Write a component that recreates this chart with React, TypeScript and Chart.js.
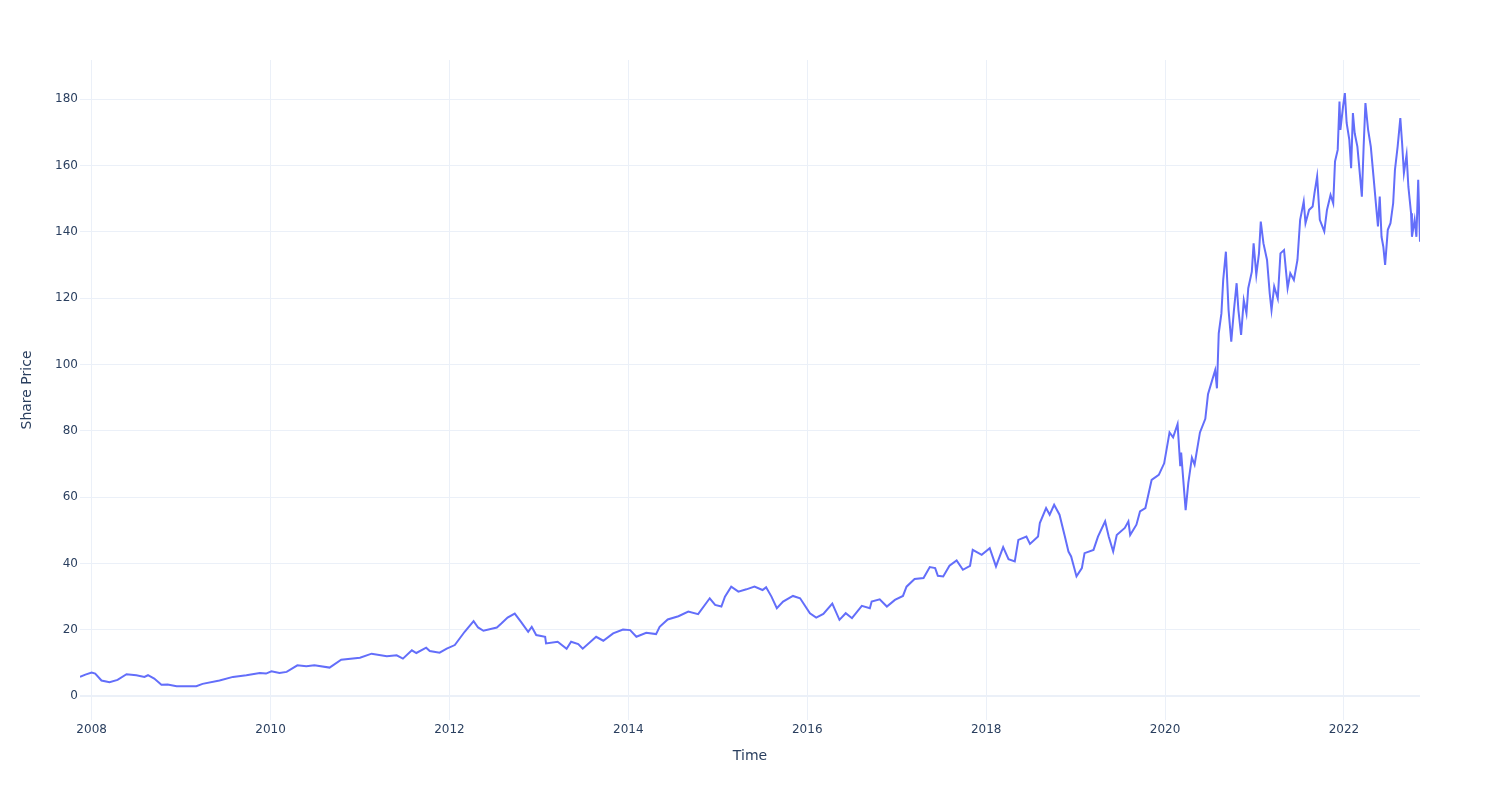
import React, { useEffect, useRef } from "react";
import { Chart, registerables } from "chart.js";

Chart.register(...registerables);

const dates: number[] = [
  2007.87, 2007.93, 2008.0, 2008.04, 2008.11, 2008.2, 2008.29, 2008.39, 2008.5, 2008.59,
  2008.63, 2008.7, 2008.78, 2008.85, 2008.95, 2009.06, 2009.17, 2009.24, 2009.43, 2009.58,
  2009.73, 2009.88, 2009.95, 2010.01, 2010.1, 2010.18, 2010.3, 2010.4, 2010.49, 2010.66,
  2010.79, 2011.0, 2011.13, 2011.3, 2011.41, 2011.48, 2011.58, 2011.63, 2011.74, 2011.78,
  2011.89, 2011.97, 2012.06, 2012.17, 2012.27, 2012.32, 2012.38, 2012.53, 2012.58, 2012.65,
  2012.73, 2012.8, 2012.88, 2012.92, 2012.97, 2013.07, 2013.08, 2013.21, 2013.31, 2013.36,
  2013.44, 2013.49, 2013.64, 2013.72, 2013.83, 2013.94, 2014.02, 2014.09, 2014.2, 2014.31,
  2014.35, 2014.44, 2014.56, 2014.67, 2014.78, 2014.91, 2014.97, 2015.04, 2015.08, 2015.15,
  2015.23, 2015.32, 2015.41, 2015.5, 2015.54, 2015.6, 2015.66, 2015.73, 2015.84, 2015.92,
  2016.03, 2016.1, 2016.18, 2016.28, 2016.36, 2016.43, 2016.5, 2016.61, 2016.7, 2016.72,
  2016.81, 2016.89, 2016.98, 2017.07, 2017.11, 2017.2, 2017.3, 2017.37, 2017.43, 2017.46,
  2017.52, 2017.59, 2017.67, 2017.74, 2017.82, 2017.85, 2017.95, 2018.04, 2018.11, 2018.19,
  2018.25, 2018.32, 2018.36, 2018.45, 2018.49, 2018.58, 2018.6, 2018.67, 2018.71, 2018.76,
  2018.82, 2018.88, 2018.92, 2018.95, 2019.01, 2019.07, 2019.1, 2019.2, 2019.25, 2019.33,
  2019.37, 2019.42, 2019.46, 2019.55, 2019.59, 2019.61, 2019.68, 2019.72, 2019.78, 2019.85,
  2019.93, 2019.99, 2020.05, 2020.09, 2020.14, 2020.17, 2020.18, 2020.23, 2020.26, 2020.3,
  2020.33, 2020.39, 2020.45, 2020.48, 2020.56, 2020.58, 2020.6, 2020.63, 2020.65, 2020.68,
  2020.71, 2020.74, 2020.77, 2020.8, 2020.82, 2020.85, 2020.88, 2020.91, 2020.93, 2020.97,
  2020.99, 2021.02, 2021.05, 2021.07, 2021.1, 2021.14, 2021.17, 2021.19, 2021.22, 2021.26,
  2021.29, 2021.33, 2021.37, 2021.4, 2021.44, 2021.48, 2021.51, 2021.55, 2021.57, 2021.61,
  2021.65, 2021.67, 2021.7, 2021.73, 2021.78, 2021.81, 2021.85, 2021.88, 2021.9, 2021.93,
  2021.95, 2021.96, 2021.99, 2022.01, 2022.03, 2022.06, 2022.08, 2022.1, 2022.12, 2022.15,
  2022.17, 2022.2, 2022.22, 2022.24, 2022.27, 2022.3, 2022.33, 2022.36, 2022.38, 2022.4,
  2022.42, 2022.44, 2022.46, 2022.49, 2022.52, 2022.55, 2022.57, 2022.6, 2022.63, 2022.65,
  2022.67, 2022.7, 2022.72, 2022.75, 2022.76, 2022.79, 2022.81, 2022.83, 2022.85,
];

const prices: number[] = [
  5.8, 6.5, 7.1, 6.8, 4.7, 4.2, 4.9, 6.6, 6.3, 5.8,
  6.3, 5.3, 3.4, 3.5, 3.0, 3.0, 3.0, 3.7, 4.7, 5.8,
  6.3, 7.0, 6.8, 7.5, 7.0, 7.3, 9.3, 9.0, 9.3, 8.6,
  11.0, 11.6, 12.8, 12.0, 12.3, 11.3, 13.8, 13.0, 14.6, 13.6,
  13.1, 14.3, 15.4, 19.4, 22.6, 20.7, 19.7, 20.7, 21.9, 23.7,
  24.9, 22.4, 19.4, 20.9, 18.4, 17.9, 15.9, 16.4, 14.3, 16.4,
  15.7, 14.3, 17.9, 16.7, 18.9, 20.1, 19.9, 17.9, 19.1, 18.7,
  20.9, 23.1, 24.1, 25.5, 24.7, 29.5, 27.5, 27.0, 30.0, 33.0,
  31.5, 32.2, 33.0, 32.0, 32.8, 30.0, 26.5, 28.5, 30.2, 29.5,
  25.0, 23.7, 24.8, 27.9, 23.0, 25.0, 23.5, 27.2, 26.5, 28.5,
  29.2, 27.0, 29.0, 30.2, 33.0, 35.3, 35.6, 38.9, 38.6, 36.3,
  36.1, 39.3, 40.9, 38.1, 39.3, 44.1, 42.6, 44.6, 39.1, 44.9,
  41.3, 40.6, 47.1, 48.1, 45.9, 48.1, 52.2, 56.7, 54.7, 57.7,
  54.7, 48.1, 43.6, 42.1, 36.1, 38.6, 43.1, 44.1, 48.1, 52.7,
  48.1, 43.6, 48.6, 50.7, 52.7, 48.6, 51.7, 55.7, 56.7, 65.2,
  66.7, 70.2, 79.5, 78.0, 82.0, 69.3, 73.4, 56.1, 64.3, 71.9,
  69.8, 79.5, 83.6, 91.0, 98.3, 92.8, 109.4, 115.4, 125.5, 134.0,
  116.4, 106.9, 116.4, 124.5, 116.4, 108.9, 119.4, 115.4, 123.0, 128.0,
  136.5, 127.0, 133.5, 143.1, 136.5, 131.5, 121.4, 116.4, 123.5, 119.9,
  133.5, 134.5, 123.0, 127.5, 125.5, 131.5, 143.6, 149.1, 142.6, 146.6,
  147.6, 151.6, 156.7, 143.6, 140.1, 146.6, 151.1, 148.6, 161.2, 164.7,
  179.3, 170.7, 177.8, 181.8, 172.8, 167.7, 159.2, 175.8, 169.7, 165.7,
  159.7, 150.6, 165.7, 178.8, 170.7, 165.7, 156.7, 147.6, 141.6, 150.6,
  138.5, 135.5, 130.0, 140.6, 142.6, 148.6, 158.7, 165.7, 174.3, 166.7,
  157.7, 163.2, 153.6, 145.6, 138.5, 143.6, 138.5, 155.7, 137.0,
];

const xTickValues: number[] = [2008, 2010, 2012, 2014, 2016, 2018, 2020, 2022];
const yTickValues: number[] = [0, 20, 40, 60, 80, 100, 120, 140, 160, 180];

const xTitle = "Time";
const yTitle = "Share Price";

const FONT = "'DejaVu Sans', Verdana, sans-serif";
const TEXT = "#2a3f5f";
const GRID = "#EBF0F8";

export default function App() {
  const ref = useRef<HTMLCanvasElement | null>(null);

  useEffect(() => {
    document.body.style.margin = "0";
    const canvas = ref.current;
    if (!canvas) return;
    const chart = new Chart(canvas, {
      type: "line",
      data: {
        datasets: [
          {
            data: dates.map((d, i) => ({ x: d, y: prices[i] })),
            borderColor: "#636efa",
            backgroundColor: "#636efa",
            borderWidth: 2,
            pointRadius: 0,
            tension: 0,
            fill: false,
          },
        ],
      },
      options: {
        responsive: false,
        animation: false,
        events: [],
        layout: { padding: { left: 0, right: 80, top: 60, bottom: 0 } },
        plugins: { legend: { display: false }, tooltip: { enabled: false } },
        scales: {
          x: {
            type: "linear",
            min: dates[0],
            max: dates[dates.length - 1],
            afterBuildTicks: (scale: any) => {
              scale.ticks = xTickValues.map((v) => ({ value: v }));
            },
            afterFit: (scale: any) => {
              scale.height = 80;
            },
            border: { display: false },
            grid: { color: GRID, lineWidth: 1, drawTicks: false },
            ticks: {
              padding: 3,
              color: TEXT,
              font: { family: FONT, size: 12 },
              maxRotation: 0,
              autoSkip: false,
              callback: (v: any) => String(v),
            },
            title: {
              display: true,
              text: xTitle,
              color: TEXT,
              font: { family: FONT, size: 14 },
              padding: { top: 0, bottom: 35 },
            },
          },
          y: {
            type: "linear",
            min: -7.2,
            max: 191.8,
            afterBuildTicks: (scale: any) => {
              scale.ticks = yTickValues.map((v) => ({ value: v }));
            },
            afterFit: (scale: any) => {
              scale.width = 80;
            },
            border: { display: false },
            grid: {
              color: GRID,
              lineWidth: (ctx: any) => (ctx.tick && ctx.tick.value === 0 ? 2 : 1),
              drawTicks: false,
            },
            ticks: {
              padding: 2,
              color: TEXT,
              font: { family: FONT, size: 12 },
              autoSkip: false,
              callback: (v: any) => String(v),
            },
            title: {
              display: true,
              text: yTitle,
              color: TEXT,
              font: { family: FONT, size: 14 },
              padding: { top: 19, bottom: 0 },
            },
          },
        },
      },
    });
    return () => chart.destroy();
  }, []);

  return (
    <div style={{ width: 1500, height: 800, background: "#fff" }}>
      <canvas ref={ref} width={1500} height={800} />
    </div>
  );
}
